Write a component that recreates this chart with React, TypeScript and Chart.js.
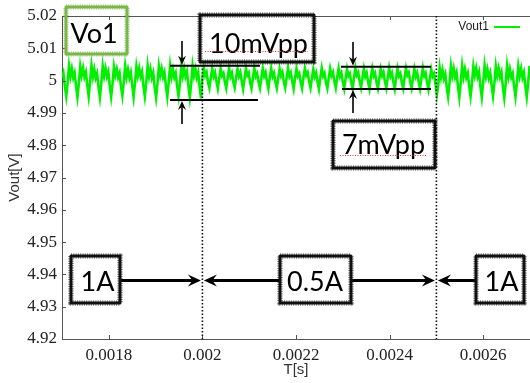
import React, { useEffect, useRef } from 'react';
import { Chart, registerables } from 'chart.js';
Chart.register(...registerables);

// sampling clock of the scope trace
const sampleStart = 0.0017;
const sampleStep = 0.000003;

// Vout1 during 1A load (before the step at 0.002 s)
const vout1ABefore = [
  5.0010, 5.0024, 4.9984,
  4.9952, 4.9994, 5.0046, 5.0013, 5.0037, 5.0009, 5.0024, 4.9983,
  4.9949, 4.9991, 5.0044, 5.0016, 5.0039, 5.0011, 5.0026, 4.9986,
  4.9951, 4.9996, 5.0047, 5.0012, 5.0035, 5.0008, 5.0022, 4.9981,
  4.9948, 4.9993, 5.0045, 5.0014, 5.0038, 5.0012, 5.0027, 4.9984,
  4.9950, 4.9990, 5.0043, 5.0017, 5.0036, 5.0010, 5.0023, 4.9982,
  4.9953, 4.9995, 5.0046, 5.0011, 5.0034, 5.0009, 5.0025, 4.9985,
  4.9949, 4.9992, 5.0044, 5.0015, 5.0039, 5.0013, 5.0028, 4.9983,
  4.9951, 4.9994, 5.0047, 5.0013, 5.0036, 5.0008, 5.0024, 4.9980,
  4.9947, 4.9991, 5.0045, 5.0016, 5.0037, 5.0011, 5.0026, 4.9984,
  4.9950, 4.9995, 5.0046, 5.0012, 5.0035, 5.0010, 5.0023, 4.9982,
  4.9952, 4.9993, 5.0044, 5.0014, 5.0038, 5.0012, 5.0027, 4.9985,
  4.9948, 4.9990, 5.0046, 5.0015, 5.0036, 5.0009, 5.0025, 4.9981,
  4.9945,
];

// Vout1 during 0.5A load (0.002 s .. 0.0025 s)
const vout05A = [
  5.0006, 5.0040, 5.0016, 5.0026, 4.9995,
  4.9977, 5.0009, 5.0038, 5.0013, 5.0025, 4.9997,
  4.9975, 5.0007, 5.0037, 5.0015, 5.0023, 4.9995,
  4.9976, 5.0010, 5.0039, 5.0012, 5.0024, 4.9996,
  4.9978, 5.0008, 5.0036, 5.0014, 5.0026, 4.9998,
  4.9974, 5.0006, 5.0038, 5.0016, 5.0024, 4.9994,
  4.9976, 5.0009, 5.0039, 5.0013, 5.0022, 4.9996,
  4.9977, 5.0008, 5.0037, 5.0014, 5.0025, 4.9997,
  4.9975, 5.0010, 5.0038, 5.0012, 5.0023, 4.9995,
  4.9976, 5.0007, 5.0036, 5.0015, 5.0026, 4.9996,
  4.9978, 5.0009, 5.0039, 5.0013, 5.0024, 4.9998,
  4.9975, 5.0008, 5.0037, 5.0014, 5.0022, 4.9995,
  4.9976, 5.0010, 5.0038, 5.0016, 5.0025, 4.9997,
  4.9977, 5.0007, 5.0036, 5.0012, 5.0024, 4.9996,
  4.9974, 5.0009, 5.0039, 5.0014, 5.0023, 4.9994,
  4.9976, 5.0008, 5.0037, 5.0015, 5.0026, 4.9997,
  4.9977, 5.0010, 5.0038, 5.0013, 5.0024, 4.9996,
  4.9975, 5.0006, 5.0036, 5.0014, 5.0022, 4.9995,
  4.9976, 5.0009, 5.0039, 5.0016, 5.0025, 4.9998,
  4.9978, 5.0008, 5.0037, 5.0012, 5.0024, 4.9996,
  4.9975, 5.0010, 5.0038, 5.0014, 5.0023, 4.9995,
  4.9976, 5.0007, 5.0036, 5.0015, 5.0026, 4.9997,
  4.9977, 5.0009, 5.0039, 5.0013, 5.0024, 4.9996,
  4.9974, 5.0008, 5.0037, 5.0014, 5.0022, 4.9994,
  4.9976, 5.0010, 5.0038, 5.0016, 5.0025, 4.9997,
  4.9977, 5.0007, 5.0036, 5.0012, 5.0024, 4.9996,
  4.9975, 5.0009, 5.0039, 5.0014, 5.0023, 4.9995,
  4.9973, 5.0006, 5.0035, 5.0013, 5.0021, 4.9990,
];

// Vout1 during 1A load (after the step at 0.0025 s)
const vout1AAfter = [
  4.9956, 4.9985, 5.0040, 5.0010, 5.0033, 5.0006, 5.0020, 4.9980,
  4.9950, 4.9992, 5.0045, 5.0014, 5.0037, 5.0010, 5.0025, 4.9983,
  4.9948, 4.9994, 5.0046, 5.0012, 5.0036, 5.0009, 5.0023, 4.9984,
  4.9951, 4.9991, 5.0044, 5.0016, 5.0039, 5.0012, 5.0027, 4.9982,
  4.9949, 4.9995, 5.0047, 5.0013, 5.0035, 5.0008, 5.0024, 4.9985,
  4.9952, 4.9993, 5.0045, 5.0015, 5.0038, 5.0011, 5.0026, 4.9981,
  4.9947, 4.9990, 5.0046, 5.0012, 5.0036, 5.0010, 5.0022, 4.9983,
  4.9950, 4.9994, 5.0044, 5.0014, 5.0037, 5.0009, 5.0025, 4.9984,
  4.9949, 4.9992, 5.0046,
];

const xTickValues = [0.0018, 0.002, 0.0022, 0.0024, 0.0026];
const xTickLabels = ['0.0018', '0.002', '0.0022', '0.0024', '0.0026'];
const yTickValues = [4.92, 4.93, 4.94, 4.95, 4.96, 4.97, 4.98, 4.99, 5.0, 5.01, 5.02];
const yTickLabels = ['4.92', '4.93', '4.94', '4.95', '4.96', '4.97', '4.98', '4.99', '5', '5.01', '5.02'];

const stepTimes = [0.002, 0.0025];

// annotation boxes (data coordinates)
const labelBoxes = [
  { text: 'Vo1', x1: 0.0017085, x2: 0.0018389, y1: 5.022786, y2: 5.008235, tx: 0.0017684, ty: 5.011548, color: '#7ab648', fill: false },
  { text: '10mVpp', x1: 0.0019949, x2: 0.0022385, y1: 5.02031, y2: 5.005759, tx: 0.0021199, ty: 5.008545, color: '#111', fill: true },
  { text: '7mVpp', x1: 0.0022791, x2: 0.002497, y1: 4.987492, y2: 4.972941, tx: 0.002387, ty: 4.977276, color: '#111', fill: true },
  { text: '1A', x1: 0.0017192, x2: 0.0018239, y1: 4.945697, y2: 4.931146, tx: 0.0017759, ty: 4.934954, color: '#111', fill: true },
  { text: '0.5A', x1: 0.0021658, x2: 0.0023175, y1: 4.945697, y2: 4.931146, tx: 0.0022406, ty: 4.934954, color: '#111', fill: true },
  { text: '1A', x1: 0.0025846, x2: 0.0026872, y1: 4.945697, y2: 4.931146, tx: 0.0026391, ty: 4.934954, color: '#111', fill: true },
];

const spellUnderlines = [
  { x1: 0.0020056, x2: 0.0022257, y: 5.009164 },
  { x1: 0.002294, x2: 0.0024799, y: 4.976966 },
];

// ripple markers: horizontal bars
const rippleBars = [
  { x1: 0.0019308, x2: 0.0021231, y: 5.004613 },
  { x1: 0.0019308, x2: 0.0021188, y: 4.993994 },
  { x1: 0.0022962, x2: 0.0024885, y: 5.004303 },
  { x1: 0.0022983, x2: 0.0024885, y: 4.9974 },
];

// vertical arrows (from -> to)
const rippleArrows = [
  { x: 0.0019564, from: 5.01226, to: 5.004613 },
  { x: 0.0019564, from: 4.986563, to: 4.993994 },
  { x: 0.0023218, from: 5.01195, to: 5.004303 },
  { x: 0.0023218, from: 4.989969, to: 4.9974 },
];

// horizontal load arrows (from -> to)
const loadArrowY = 4.938111;
const loadArrows = [
  { from: 0.0018239, to: 0.002 },
  { from: 0.0021658, to: 0.002 },
  { from: 0.0023175, to: 0.0025 },
  { from: 0.0025846, to: 0.0025 },
];

function buildPoints() {
  const all = [...vout1ABefore, ...vout05A, ...vout1AAfter];
  return all.map((v, i) => ({ x: sampleStart + i * sampleStep, y: v }));
}

function roughRect(ctx: CanvasRenderingContext2D, x1: number, y1: number, x2: number, y2: number, color: string, fill: boolean) {
  const l = Math.min(x1, x2), t = Math.min(y1, y2), w = Math.abs(x2 - x1), h = Math.abs(y2 - y1);
  ctx.save();
  if (fill) {
    ctx.fillStyle = '#fff';
    ctx.fillRect(l, t, w, h);
  }
  ctx.strokeStyle = color;
  ctx.lineJoin = 'round';
  ctx.lineWidth = 3;
  ctx.strokeRect(l, t, w, h);
  ctx.setLineDash([1, 1.3]);
  ctx.lineWidth = 5.5;
  ctx.globalAlpha = 0.55;
  ctx.strokeRect(l, t, w, h);
  ctx.restore();
}

function arrowHead(ctx: CanvasRenderingContext2D, x: number, y: number, dx: number, dy: number, len: number, half: number) {
  const px = -dy, py = dx;
  ctx.beginPath();
  ctx.moveTo(x, y);
  ctx.lineTo(x - dx * len + px * half, y - dy * len + py * half);
  ctx.lineTo(x - dx * len * 0.65, y - dy * len * 0.65);
  ctx.lineTo(x - dx * len - px * half, y - dy * len - py * half);
  ctx.closePath();
  ctx.fill();
}

const annotationPlugin = {
  id: 'annotations',
  afterDatasetsDraw(chart: any) {
    const { ctx, chartArea } = chart;
    const xs = chart.scales.x, ys = chart.scales.y;
    const px = (t: number) => xs.getPixelForValue(t);
    const py = (v: number) => ys.getPixelForValue(v);
    ctx.save();
    ctx.strokeStyle = '#555';
    ctx.lineWidth = 1;
    ctx.beginPath();
    ctx.moveTo(chartArea.left, chartArea.top + 0.5);
    ctx.lineTo(chartArea.right, chartArea.top + 0.5);
    ctx.stroke();
    ctx.beginPath();
    yTickValues.forEach((v) => {
      const y = Math.round(py(v)) + 0.5;
      ctx.moveTo(chartArea.left, y);
      ctx.lineTo(chartArea.left + 4, y);
    });
    xTickValues.forEach((t) => {
      const x = Math.round(px(t)) + 0.5;
      ctx.moveTo(x, chartArea.bottom);
      ctx.lineTo(x, chartArea.bottom - 4);
      ctx.moveTo(x, chartArea.top);
      ctx.lineTo(x, chartArea.top + 4);
    });
    ctx.stroke();

    ctx.strokeStyle = '#111';
    ctx.lineWidth = 1.6;
    ctx.setLineDash([1.5, 2]);
    stepTimes.forEach((t) => {
      const x = px(t);
      ctx.beginPath();
      ctx.moveTo(x, chartArea.top);
      ctx.lineTo(x, chartArea.bottom);
      ctx.stroke();
    });
    ctx.setLineDash([]);

    ctx.strokeStyle = '#000';
    ctx.lineWidth = 2;
    rippleBars.forEach((b) => {
      ctx.beginPath();
      ctx.moveTo(px(b.x1), py(b.y));
      ctx.lineTo(px(b.x2), py(b.y));
      ctx.stroke();
    });
    ctx.fillStyle = '#000';
    rippleArrows.forEach((a) => {
      const x = px(a.x), y0 = py(a.from), y1 = py(a.to);
      const dir = y1 > y0 ? 1 : -1;
      ctx.lineWidth = 1.6;
      ctx.beginPath();
      ctx.moveTo(x, y0);
      ctx.lineTo(x, y1 - dir * 5);
      ctx.stroke();
      arrowHead(ctx, x, y1 - dir * 1, 0, dir, 9, 4);
    });

    const ay = py(loadArrowY);
    loadArrows.forEach((a) => {
      const x0 = px(a.from), x1 = px(a.to);
      const dir = x1 > x0 ? 1 : -1;
      const tip = x1 - dir * 1.5;
      ctx.lineWidth = 3;
      ctx.beginPath();
      ctx.moveTo(x0, ay);
      ctx.lineTo(tip - dir * 8, ay);
      ctx.stroke();
      arrowHead(ctx, tip, ay, dir, 0, 13, 6);
    });

    labelBoxes.forEach((b) => {
      roughRect(ctx, px(b.x1), py(b.y1), px(b.x2), py(b.y2), b.color, b.fill);
      ctx.fillStyle = '#000';
      ctx.font = '27px Lato';
      ctx.textAlign = 'center';
      ctx.textBaseline = 'alphabetic';
      ctx.fillText(b.text, px(b.tx), py(b.ty));
    });

    ctx.strokeStyle = '#e53030';
    ctx.lineWidth = 1;
    ctx.setLineDash([1, 1.5]);
    spellUnderlines.forEach((u) => {
      ctx.beginPath();
      ctx.moveTo(px(u.x1), Math.round(py(u.y)) + 0.5);
      ctx.lineTo(px(u.x2), Math.round(py(u.y)) + 0.5);
      ctx.stroke();
    });
    ctx.setLineDash([]);

    const ly = chartArea.top + 11;
    ctx.font = '12px "Liberation Sans"';
    ctx.fillStyle = '#222';
    ctx.textAlign = 'right';
    ctx.textBaseline = 'middle';
    ctx.fillText('Vout1', chartArea.right - 41, ly);
    ctx.strokeStyle = 'rgb(0,240,0)';
    ctx.lineWidth = 2;
    ctx.beginPath();
    ctx.moveTo(chartArea.right - 36, ly);
    ctx.lineTo(chartArea.right - 10, ly);
    ctx.stroke();
    ctx.restore();
  },
};

export default function App() {
  const ref = useRef<HTMLCanvasElement | null>(null);
  useEffect(() => {
    document.body.style.margin = '0';
    if (!ref.current) return;
    const chart = new Chart(ref.current, {
      type: 'line',
      data: {
        datasets: [
          {
            label: 'Vout1',
            data: buildPoints(),
            borderColor: 'rgb(0,240,0)',
            borderWidth: 2.6,
            pointRadius: 0,
            tension: 0,
            fill: false,
          },
        ],
      },
      options: {
        animation: false,
        responsive: false,
        layout: { padding: { top: 16, right: 0, left: 0, bottom: 0 } },
        plugins: { legend: { display: false }, tooltip: { enabled: false } },
        scales: {
          x: {
            type: 'linear',
            min: 0.0017,
            max: 0.0027,
            afterBuildTicks: (s: any) => { s.ticks = xTickValues.map((v) => ({ value: v })); },
            afterFit: (s: any) => { s.height = 44; },
            grid: { drawOnChartArea: false, drawTicks: false },
            border: { display: true, color: '#555', width: 1 },
            ticks: {
              padding: 6,
              maxRotation: 0,
              autoSkip: false,
              color: '#222',
              font: { family: '"Liberation Serif"', size: 17 },
              callback: (_v: any, i: number) => xTickLabels[i],
            },
            title: { display: true, text: 'T[s]', color: '#333', font: { family: '"Liberation Sans"', size: 15 }, padding: { top: 0, bottom: 4 } },
          },
          y: {
            type: 'linear',
            min: 4.92,
            max: 5.02,
            afterBuildTicks: (s: any) => { s.ticks = yTickValues.map((v) => ({ value: v })); },
            afterFit: (s: any) => { s.width = 62; },
            grid: { drawOnChartArea: false, drawTicks: false },
            border: { display: true, color: '#555', width: 1 },
            ticks: {
              padding: 5,
              autoSkip: false,
              color: '#222',
              font: { family: '"Liberation Serif"', size: 17 },
              callback: (_v: any, i: number) => yTickLabels[i],
            },
            title: { display: true, text: 'Vout[V]', color: '#333', font: { family: '"Liberation Sans"', size: 15 }, padding: { top: 6, bottom: 0 } },
          },
        },
      },
      plugins: [annotationPlugin],
    } as any);
    return () => chart.destroy();
  }, []);
  return <canvas ref={ref} width={530} height={383} style={{ display: 'block' }} />;
}
